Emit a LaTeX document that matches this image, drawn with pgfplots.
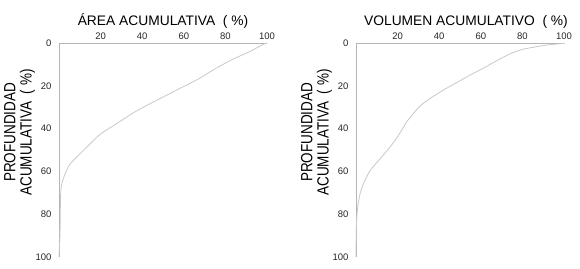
\documentclass[border=0pt]{standalone}
\usepackage{pgfplots}
\pgfplotsset{compat=1.18}
\usepackage{fontspec}
\setmainfont{Liberation Sans}
\definecolor{axgray}{RGB}{180,180,180}
\definecolor{curvegray}{RGB}{200,200,200}
\pgfplotsset{
  myax/.style={
    scale only axis, width=208pt, height=214pt,
    xmin=0, xmax=100, ymin=0, ymax=100,
    y dir=reverse,
    axis x line*=top, axis y line*=left,
    axis line style={draw=axgray, line width=0.8pt, -},
    xtick={20,40,60,80,100}, ytick={0,20,40,60,80,100},
    major tick length=0pt,
    xticklabel pos=top,
    tick label style={font=\fontsize{9.5}{10}\selectfont, text=black!85},
    /pgf/number format/assume math mode=true,
    xticklabel style={yshift=0pt},
    yticklabel style={xshift=-4pt},
    every axis y label/.style={at={(axis description cs:-0.19,0.582)}, anchor=center,
      rotate=90, yscale=1.2, align=center, font=\fontsize{13.5}{13.5}\selectfont},
    every axis title/.style={at={(axis description cs:0.5,1)}, anchor=base,
      yshift=18pt, font=\fontsize{13.8}{16}\selectfont},
    clip=false,
  }
}
\begin{document}
\begin{tikzpicture}
\path[use as bounding box] (0,0) rectangle (580pt,268pt);
\begin{axis}[myax, at={(59pt,11pt)}, anchor=south west,
  title={ÁREA ACUMULATIVA\ \ ( \%)},
  ylabel={PROFUNDIDAD\\ACUMULATIVA\ \ ( \%)}]
\addplot[curvegray, line width=0.8pt, smooth, tension=0.35] coordinates {
(100,0) (98,0.7) (91.8,4) (83.7,7.5) (75.5,11.8) (67.8,16.4) (59.8,20.4) (51.9,24.3) (43.5,28.5) (35.6,32.7) (28,37.5) (20,42.5) (14.9,47.2) (10,51.9) (5.3,56.5) (2.9,61.2) (1.3,65.9) (0.8,70.6) (0.6,80) (0.5,89) (0.2,95) (0,100)
};
\end{axis}
\begin{axis}[myax, at={(356pt,11pt)}, anchor=south west,
  title={VOLUMEN ACUMULATIVO\ \ ( \%)},
  every axis title/.append style={xshift=6pt},
  ylabel={PROFUNDIDAD\\ACUMULATIVA\ \ ( \%)}]
\addplot[curvegray, line width=0.8pt, smooth, tension=0.35] coordinates {
(100,0) (99.7,0.2) (93,0.8) (86.9,1.7) (80.4,2.9) (74,5.1) (67.6,8.3) (61.2,11.8) (54.8,15) (48.4,18.5) (42,22) (35.6,25.9) (30.8,29.4) (27.6,32.9) (24.4,36.8) (22,40.7) (19.5,44.5) (16.3,48.7) (11.5,54.2) (6.7,59.7) (3.5,65.9) (1.9,70.6) (0.8,76.8) (0.2,84.6) (0,98.6) (0,100)
};
\end{axis}
\end{tikzpicture}
\end{document}
